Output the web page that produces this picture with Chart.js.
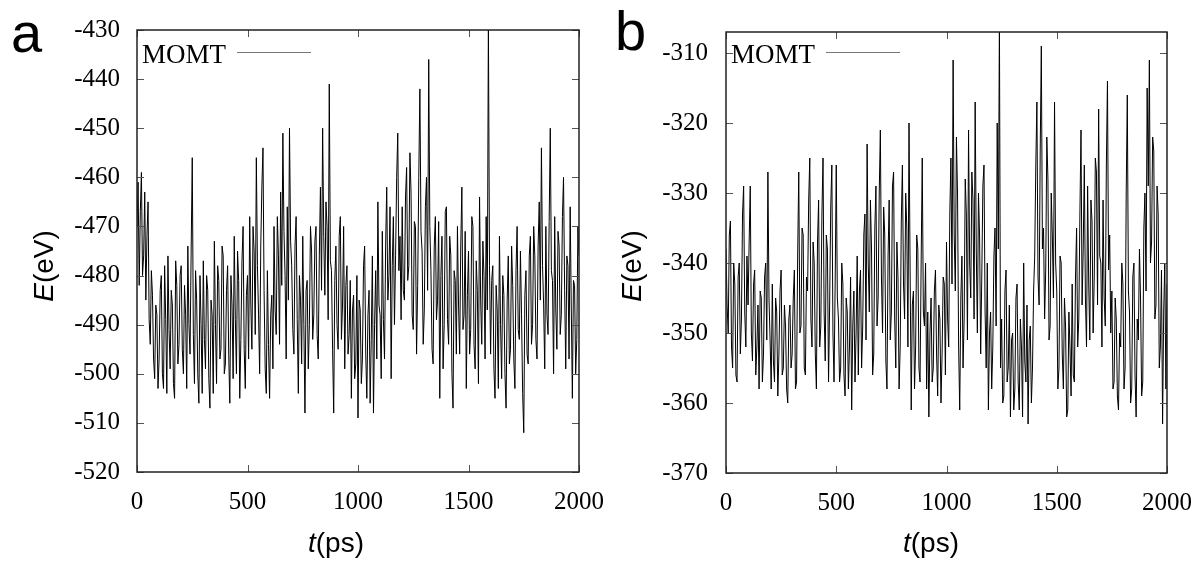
<!DOCTYPE html>
<html>
<head>
<meta charset="utf-8">
<script src="https://cdn.jsdelivr.net/npm/chart.js@4"></script>
<style>
  body { margin: 0; background: #fff; }
  #wrap { position: relative; width: 1203px; height: 562px; }
  canvas { position: absolute; top: 0; }
</style>
</head>
<body>
<div id="wrap">
  <canvas id="chartA" width="630" height="562" style="left:0"></canvas>
  <canvas id="chartB" width="603" height="562" style="left:600px"></canvas>
</div>
<script>
// sampling step of the read-off series (ps)
const step = 5;

// panel a: energy (eV), one value every 5 ps from 0 to 2000
const energyA = [
  -470, -461, -482, -467, -459, -480, -476, -463, -485, -472, -465, -489, -494, -479, -484, -497, -501, -486, -488, -503,
  -497, -483, -480, -500, -503, -478, -489, -504, -476, -491, -499, -483, -486, -502, -505, -477, -482, -498, -494, -480,
  -478, -495, -500, -482, -488, -503, -474, -490, -496, -475, -456, -492, -502, -479, -485, -500, -506, -480, -490, -504,
  -477, -493, -499, -480, -483, -501, -507, -485, -488, -504, -473, -490, -502, -478, -481, -497, -495, -474, -476, -500,
  -498, -483, -478, -496, -506, -480, -486, -501, -472, -489, -500, -475, -481, -505, -493, -477, -470, -495, -503, -484,
  -480, -497, -468, -486, -495, -470, -475, -492, -456, -478, -488, -500, -474, -462, -454, -483, -499, -504, -479, -494,
  -505, -488, -484, -499, -470, -487, -492, -468, -476, -494, -463, -482, -451, -471, -480, -497, -466, -485, -450, -473,
  -478, -491, -496, -474, -468, -489, -504, -480, -485, -498, -472, -490, -508, -483, -481, -499, -490, -470, -475, -493,
  -488, -473, -470, -492, -497, -476, -462, -483, -450, -472, -484, -465, -470, -489, -441, -477, -479, -495, -508, -481,
  -474, -490, -495, -472, -468, -493, -486, -470, -499, -482, -478, -496, -492, -481, -505, -487, -484, -501, -498, -480,
  -509, -485, -487, -502, -497, -478, -474, -496, -505, -488, -483, -506, -493, -476, -508, -490, -479, -497, -465, -486,
  -488, -501, -471, -489, -497, -474, -462, -485, -480, -466, -501, -478, -468, -490, -476, -460, -451, -479, -472, -489,
  -466, -483, -485, -464, -458, -481, -478, -455, -463, -488, -491, -469, -470, -496, -482, -460, -442, -471, -475, -494,
  -487, -466, -460, -483, -436, -470, -479, -495, -498, -474, -468, -489, -485, -469, -505, -480, -472, -499, -490, -467,
  -466, -489, -494, -472, -476, -500, -507, -479, -481, -496, -470, -486, -496, -474, -462, -491, -488, -471, -503, -484,
  -475, -496, -491, -468, -470, -494, -499, -477, -483, -502, -464, -485, -494, -473, -480, -497, -468, -487, -428, -478,
  -496, -481, -478, -499, -505, -482, -487, -503, -472, -490, -501, -480, -484, -500, -507, -485, -476, -498, -495, -474,
  -482, -497, -503, -479, -470, -491, -493, -475, -488, -504, -512, -484, -479, -496, -498, -476, -472, -494, -490, -470,
  -476, -493, -497, -474, -465, -485, -454, -478, -486, -499, -470, -488, -492, -469, -450, -479, -481, -500, -468, -487,
  -495, -471, -474, -492, -488, -468, -460, -483, -499, -476, -478, -497, -466, -486, -505, -481, -482, -500, -493, -470,
  -476
];

// panel b: energy (eV), one value every 5 ps from 0 to 2000
const energyB = [
  -338, -346, -350, -336, -334, -352, -355, -340, -343, -356, -357, -342, -340, -353, -348, -333, -329, -347, -352, -339,
  -346, -337, -329, -350, -354, -343, -341, -356, -352, -346, -358, -344, -345, -357, -353, -342, -340, -351, -327, -345,
  -351, -358, -343, -354, -357, -345, -347, -359, -353, -344, -341, -356, -355, -346, -349, -358, -360, -348, -346, -355,
  -353, -345, -341, -358, -357, -339, -327, -350, -349, -335, -336, -355, -356, -342, -344, -331, -325, -348, -352, -337,
  -340, -353, -358, -337, -331, -352, -349, -333, -325, -347, -354, -336, -338, -357, -346, -332, -326, -350, -357, -343,
  -326, -345, -348, -357, -355, -340, -343, -356, -359, -345, -347, -358, -352, -342, -361, -349, -344, -357, -350, -339,
  -356, -344, -341, -355, -349, -336, -333, -351, -323, -340, -347, -331, -338, -356, -353, -335, -329, -349, -345, -330,
  -321, -342, -350, -332, -336, -354, -358, -339, -331, -351, -347, -329, -327, -348, -355, -337, -342, -358, -352, -334,
  -326, -343, -348, -330, -335, -352, -320, -341, -361, -346, -344, -358, -352, -336, -338, -355, -357, -340, -325, -347,
  -349, -340, -358, -347, -362, -350, -345, -357, -355, -344, -341, -353, -359, -346, -348, -360, -353, -342, -343, -356,
  -337, -348, -352, -333, -325, -343, -311, -336, -344, -322, -330, -352, -361, -345, -339, -355, -348, -328, -333, -351,
  -321, -340, -345, -327, -331, -348, -317, -338, -350, -330, -336, -353, -342, -329, -326, -347, -355, -340, -361, -350,
  -347, -358, -352, -339, -335, -349, -320, -338, -305, -355, -348, -360, -359, -344, -341, -357, -355, -346, -362, -351,
  -350, -361, -358, -345, -343, -357, -361, -348, -352, -362, -340, -354, -357, -346, -363, -351, -349, -360, -355, -344,
  -339, -326, -317, -342, -346, -324, -309, -338, -335, -348, -341, -322, -328, -351, -349, -330, -336, -345, -317, -340,
  -344, -358, -355, -339, -340, -353, -358, -345, -349, -362, -361, -347, -352, -359, -343, -356, -357, -342, -335, -352,
  -348, -333, -321, -346, -338, -326, -345, -352, -329, -343, -351, -331, -334, -350, -342, -325, -327, -346, -318, -339,
  -340, -352, -331, -345, -349, -326, -314, -341, -336, -350, -344, -358, -357, -345, -348, -359, -361, -350, -352, -340,
  -343, -358, -355, -330, -316, -344, -347, -360, -358, -342, -340, -356, -362, -348, -351, -338, -345, -359, -357, -335,
  -330, -344, -315, -329, -311, -340, -337, -322, -324, -348, -346, -329, -333, -355, -352, -341, -363, -347, -340, -358,
  -343
];

const xTicks = [0, 500, 1000, 1500, 2000];
const seriesName = 'MOMT';

// draws the gnuplot-like frame, inward ticks, key and titles
const decorPlugin = {
  id: 'decor',
  afterDraw(chart, args, o) {
    const ctx = chart.ctx;
    const a = chart.chartArea;
    const xs = chart.scales.x, ys = chart.scales.y;
    ctx.save();
    ctx.strokeStyle = '#555';
    ctx.lineWidth = 1;
    const tl = 7;
    ctx.beginPath();
    xs.ticks.forEach(t => {
      const px = Math.round(xs.getPixelForValue(t.value)) + 0.5;
      ctx.moveTo(px, a.bottom); ctx.lineTo(px, a.bottom - tl);
      ctx.moveTo(px, a.top); ctx.lineTo(px, a.top + tl);
    });
    ys.ticks.forEach(t => {
      const py = Math.round(ys.getPixelForValue(t.value)) + 0.5;
      ctx.moveTo(a.left, py); ctx.lineTo(a.left + tl, py);
      ctx.moveTo(a.right, py); ctx.lineTo(a.right - tl, py);
    });
    ctx.stroke();

    ctx.strokeStyle = '#222';
    ctx.lineWidth = 1.5;
    ctx.strokeRect(a.left, a.top, a.right - a.left, a.bottom - a.top);

    // key
    ctx.fillStyle = '#000';
    ctx.font = '27px "Liberation Serif"';
    ctx.textBaseline = 'alphabetic';
    ctx.fillText(seriesName, a.left + 5, 63);
    ctx.strokeStyle = '#777';
    ctx.lineWidth = 1;
    ctx.beginPath();
    ctx.moveTo(a.left + 100, 52.5); ctx.lineTo(a.left + 174, 52.5);
    ctx.stroke();

    // panel letter
    ctx.font = '56px "Liberation Sans"';
    ctx.fillText(o.letter, o.letterX, o.letterY);

    // x title: t(ps)
    ctx.font = 'italic 28px "Liberation Sans"';
    ctx.fillText('t', o.xTitleX, 552);
    const w = ctx.measureText('t').width;
    ctx.font = '28px "Liberation Sans"';
    ctx.fillText('(ps)', o.xTitleX + w, 552);

    // y title: E(eV), rotated
    ctx.translate(o.yTitleX, 266);
    ctx.rotate(-Math.PI / 2);
    ctx.font = 'italic 28px "Liberation Sans"';
    const w1 = ctx.measureText('E').width;
    ctx.font = '28px "Liberation Sans"';
    const w2 = ctx.measureText('(eV)').width;
    const x0 = -(w1 + w2) / 2;
    ctx.font = 'italic 28px "Liberation Sans"';
    ctx.fillText('E', x0, 0);
    ctx.font = '28px "Liberation Sans"';
    ctx.fillText('(eV)', x0 + w1, 0);
    ctx.restore();
  }
};

function makeChart(id, values, yMin, yMax, box, decor) {
  return new Chart(document.getElementById(id), {
    type: 'line',
    data: {
      datasets: [{
        label: seriesName,
        data: values.map((v, i) => ({ x: i * step, y: v })),
        borderColor: '#000',
        borderWidth: 1,
        pointRadius: 0,
        tension: 0,
        fill: false
      }]
    },
    options: {
      responsive: false,
      animation: false,
      layout: { padding: { left: 0, top: box.top, right: box.right, bottom: 0 } },
      scales: {
        x: {
          type: 'linear',
          min: 0,
          max: 2000,
          afterBuildTicks: s => { s.ticks = xTicks.map(v => ({ value: v })); },
          afterFit: s => { s.height = box.xHeight; s.paddingLeft = 0; s.paddingRight = 0; },
          grid: { display: false, drawTicks: false },
          border: { display: false },
          ticks: {
            padding: 15,
            color: '#000',
            maxRotation: 0,
            callback: v => String(v),
            font: { family: 'Liberation Serif', size: 25 }
          }
        },
        y: {
          min: yMin,
          max: yMax,
          afterFit: s => { s.width = box.yWidth; s.paddingTop = 0; s.paddingBottom = 0; },
          grid: { display: false, drawTicks: false },
          border: { display: false },
          ticks: {
            stepSize: 10,
            includeBounds: false,
            padding: box.yPad,
            color: '#000',
            callback: v => String(v),
            font: { family: 'Liberation Serif', size: 25 }
          }
        }
      },
      plugins: {
        legend: { display: false },
        tooltip: { enabled: false },
        decor: decor
      }
    },
    plugins: [decorPlugin]
  });
}

makeChart('chartA', energyA, -520, -430,
  { top: 30, right: 51, xHeight: 90, yWidth: 137, yPad: 17 },
  { letter: 'a', letterX: 11, letterY: 52, xTitleX: 308, yTitleX: 53 });

makeChart('chartB', energyB, -370, -307,
  { top: 32, right: 36, xHeight: 89, yWidth: 126, yPad: 18 },
  { letter: 'b', letterX: 15, letterY: 50, xTitleX: 303, yTitleX: 41 });
</script>
</body>
</html>
